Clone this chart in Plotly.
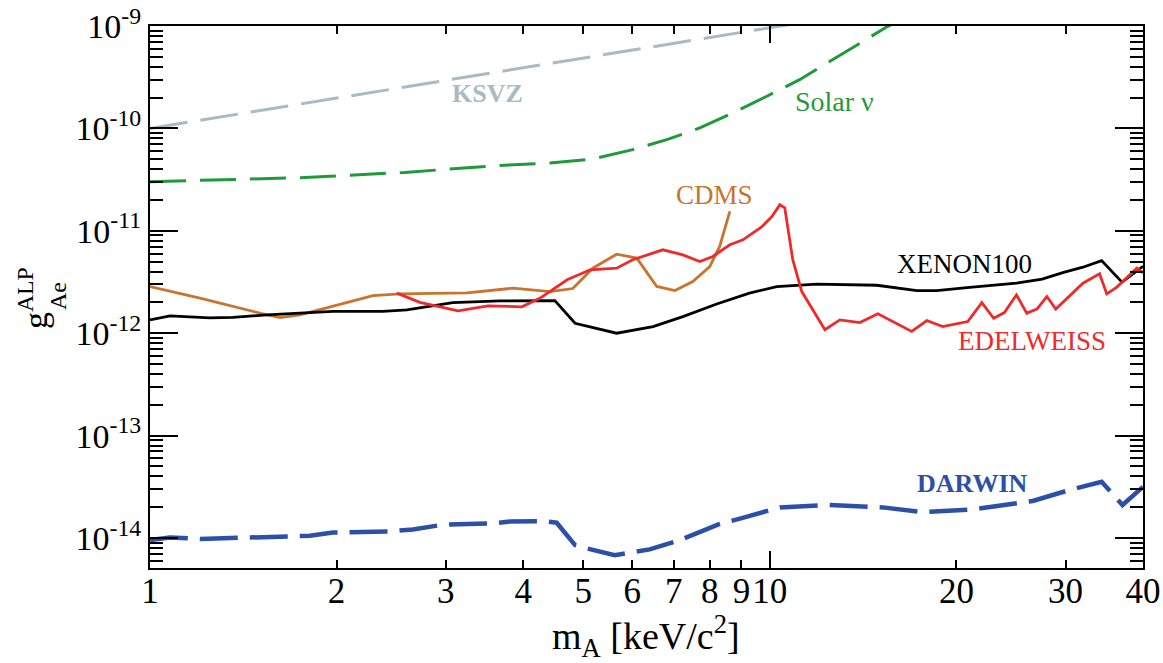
import numpy as np
import plotly.graph_objects as go

# ---- data: axion-like particle coupling limits vs. mass [keV/c^2] ----
ksvz_m = [1.0, 10.4, 12.0]
ksvz_g = [1.0e-10, 1.0e-9, 1.15e-9]

solar_m = [1.0, 1.746, 2.578, 3.668, 4.42, 5.18, 6.01, 6.82, 7.71, 8.72, 9.89,
           11.17, 12.64, 14.33, 15.5, 17.0]
solar_g = [3.02e-11, 3.3e-11, 3.72e-11, 4.35e-11, 4.59e-11, 5.02e-11, 6.2e-11,
           7.76e-11, 1.01e-10, 1.42e-10, 2.06e-10, 2.99e-10, 4.7e-10, 7.36e-10,
           9.93e-10, 1.3e-9]

cdms_m = [1.0, 1.204, 1.544, 1.621, 1.746, 1.973, 2.289, 2.531, 3.245, 3.85,
          4.42, 4.81, 5.18, 5.66, 6.1, 6.57, 7.03, 7.51, 8.0, 8.3, 8.62]
cdms_g = [2.85e-12, 2.2e-12, 1.51e-12, 1.42e-12, 1.51e-12, 1.85e-12, 2.33e-12,
          2.42e-12, 2.48e-12, 2.75e-12, 2.55e-12, 2.73e-12, 4.31e-12, 5.91e-12,
          5.41e-12, 2.86e-12, 2.61e-12, 3.19e-12, 4.48e-12, 7.03e-12, 1.55e-11]

edel_m = [2.502, 2.725, 3.14, 3.51, 3.98, 4.26, 4.71, 5.13, 5.66, 6.01, 6.72,
          7.24, 7.71, 8.09, 8.62, 9.05, 9.7, 10.07, 10.38, 10.57, 10.89, 11.26,
          12.27, 12.97, 13.97, 14.94, 16.94, 17.92, 19.0, 20.86, 21.98, 22.97,
          23.9, 25.0, 25.97, 26.97, 27.99, 28.93, 32.0, 34.04, 34.96, 36.3,
          39.1, 40.0]
edel_g = [2.46e-12, 2.0e-12, 1.65e-12, 1.85e-12, 1.81e-12, 2.2e-12, 3.32e-12,
          4.16e-12, 4.32e-12, 5.21e-12, 6.52e-12, 5.82e-12, 5.01e-12, 5.61e-12,
          7.3e-12, 8.17e-12, 1.09e-11, 1.37e-11, 1.8e-11, 1.68e-11, 5.21e-12,
          2.55e-12, 1.08e-12, 1.35e-12, 1.27e-12, 1.55e-12, 1.04e-12, 1.33e-12,
          1.16e-12, 1.3e-12, 1.99e-12, 1.4e-12, 1.59e-12, 2.37e-12, 1.57e-12,
          1.72e-12, 2.28e-12, 1.72e-12, 3.08e-12, 3.8e-12, 2.42e-12, 2.82e-12,
          4.32e-12, 3.89e-12]

xenon_m = [1.0, 1.077, 1.249, 1.361, 1.544, 1.973, 2.375, 2.597, 3.08, 3.668,
           4.50, 4.85, 5.66, 6.48, 7.24, 8.21, 9.27, 10.26, 11.9, 14.88, 17.27,
           18.59, 20.8, 25.0, 27.5, 29.7, 32.0, 34.3, 37.0, 40.0]
xenon_g = [1.35e-12, 1.476e-12, 1.41e-12, 1.43e-12, 1.51e-12, 1.63e-12,
           1.63e-12, 1.69e-12, 1.99e-12, 2.07e-12, 2.08e-12, 1.25e-12, 1.0e-12,
           1.16e-12, 1.45e-12, 1.93e-12, 2.46e-12, 2.85e-12, 3.01e-12, 2.94e-12,
           2.61e-12, 2.61e-12, 2.79e-12, 3.08e-12, 3.37e-12, 3.91e-12, 4.41e-12,
           5.12e-12, 3.15e-12, 4.5e-12]

darwin_m = [1.0, 1.077, 1.204, 1.361, 1.488, 1.811, 1.973, 2.438, 2.655, 2.97,
            3.574, 3.807, 4.336, 4.53, 4.85, 4.99, 5.62, 6.01, 6.4, 7.16, 8.3,
            9.04, 10.38, 12.36, 15.21, 17.65, 21.25, 26.56, 30.13, 34.3, 37.07,
            40.0]
darwin_g = [9.53e-15, 1.01e-14, 9.8e-15, 9.98e-15, 1.03e-14, 1.05e-14,
            1.13e-14, 1.16e-14, 1.21e-14, 1.35e-14, 1.39e-14, 1.45e-14,
            1.46e-14, 1.41e-14, 8.53e-15, 8.1e-15, 6.8e-15, 7.33e-15, 7.74e-15,
            9.55e-15, 1.37e-14, 1.57e-14, 1.99e-14, 2.1e-14, 1.99e-14, 1.79e-14,
            1.9e-14, 2.3e-14, 2.89e-14, 3.54e-14, 2.1e-14, 3.16e-14]

x_ticks = [1, 2, 3, 4, 5, 6, 7, 8, 9, 10, 20, 30, 40]
x_ticktext = ["1", "2", "3", "4", "5", "6", "7", "8", "9", "10", "20", "30", "40"]
y_exps = [-14, -13, -12, -11, -10, -9]

# curve labels: (text, mass, coupling, colour, bold, size)
labels = [
    ("KSVZ", 3.50, 2.18e-10, "#a9bac4", True, 26),
    ("Solar ν", 12.7, 1.82e-10, "#1f9a3a", False, 28),
    ("CDMS", 8.15, 2.25e-11, "#c8742e", False, 27),
    ("XENON100", 20.6, 4.75e-12, "#000000", False, 27),
    ("EDELWEISS", 26.5, 8.4e-13, "#ee2a2a", False, 27),
    ("DARWIN", 21.2, 3.44e-14, "#2c4fa8", True, 26),
]

FONT = "Liberation Serif"

fig = go.Figure()

def add_line(m, g, color, width, dash="solid"):
    fig.add_trace(go.Scatter(x=m, y=g, mode="lines",
                             line=dict(color=color, width=width, dash=dash),
                             showlegend=False, hoverinfo="skip"))

add_line(ksvz_m, ksvz_g, "#a9bac4", 3, "38px,13px")
add_line(solar_m, solar_g, "#1f9a3a", 3, "36px,14px")
add_line(cdms_m, cdms_g, "#c8742e", 2.8)
add_line(xenon_m, xenon_g, "#000000", 2.8)
add_line(edel_m, edel_g, "#ee2a2a", 2.8)
add_line(darwin_m, darwin_g, "#2c4fa8", 4.5, "38px,12px")

# empty trace to host the overlay axis carrying the long decade tick at 10
fig.add_trace(go.Scatter(x=[], y=[], xaxis="x2", yaxis="y", showlegend=False))

for text, m, g, color, bold, size in labels:
    fig.add_annotation(x=np.log10(m), y=np.log10(g), xref="x", yref="y",
                       text=f"<b>{text}</b>" if bold else text,
                       showarrow=False, xanchor="center", yanchor="middle",
                       font=dict(family=FONT, size=size, color=color))

x_range = [0, np.log10(40)]
y_range = [-14.293, -9]

y_minor = [k * 10.0 ** d for d in range(-15, -9) for k in range(2, 10)]

fig.update_layout(
    width=1163, height=663,
    margin=dict(l=150, r=20, t=26, b=95, autoexpand=False),
    paper_bgcolor="white", plot_bgcolor="white",
    font=dict(family=FONT, color="black"),
    xaxis=dict(type="log", range=x_range, tickmode="array", tickvals=x_ticks,
               ticktext=x_ticktext, ticks="inside", ticklen=8, tickwidth=1.5,
               tickcolor="black", showline=True, linecolor="black", linewidth=2,
               mirror="ticks", showgrid=False, zeroline=False, automargin=False,
               ticklabelstandoff=-9, tickangle=0,
               tickfont=dict(family=FONT, size=35, color="black")),
    xaxis2=dict(type="log", range=x_range, overlaying="x", anchor="y",
                side="bottom", tickmode="array", tickvals=[10],
                showticklabels=False, ticks="inside", ticklen=17, tickwidth=1.5,
                tickcolor="black", showline=False, mirror="ticks",
                showgrid=False, zeroline=False, automargin=False),
    yaxis=dict(type="log", range=y_range, tickmode="array",
               tickvals=[10.0 ** e for e in y_exps],
               ticktext=[f"10<sup>{e}</sup>" for e in y_exps],
               ticks="inside", ticklen=28, tickwidth=1.5, tickcolor="black",
               minor=dict(tickmode="array", tickvals=y_minor, ticks="inside",
                          ticklen=13, tickwidth=1.5, tickcolor="black",
                          showgrid=False),
               showline=True, linecolor="black", linewidth=2, mirror="ticks",
               showgrid=False, zeroline=False, automargin=False,
               tickfont=dict(family=FONT, size=34, color="black")),
)

# axis titles
fig.add_annotation(x=0.4995, y=-0.125, xref="paper", yref="paper",
                   text="m<sub>A</sub> [keV/c<sup>2</sup>]", showarrow=False,
                   xanchor="center", yanchor="middle",
                   font=dict(family=FONT, size=38, color="black"))
fig.add_annotation(x=-0.1178, y=0.498, xref="paper", yref="paper",
                   text="g<sup>ALP</sup>", showarrow=False, textangle=-90,
                   xanchor="center", yanchor="middle",
                   font=dict(family=FONT, size=34, color="black"))
fig.add_annotation(x=-0.0926, y=0.502, xref="paper", yref="paper",
                   text="Ae", showarrow=False, textangle=-90,
                   xanchor="center", yanchor="middle",
                   font=dict(family=FONT, size=24, color="black"))

fig.write_html("out.html")
